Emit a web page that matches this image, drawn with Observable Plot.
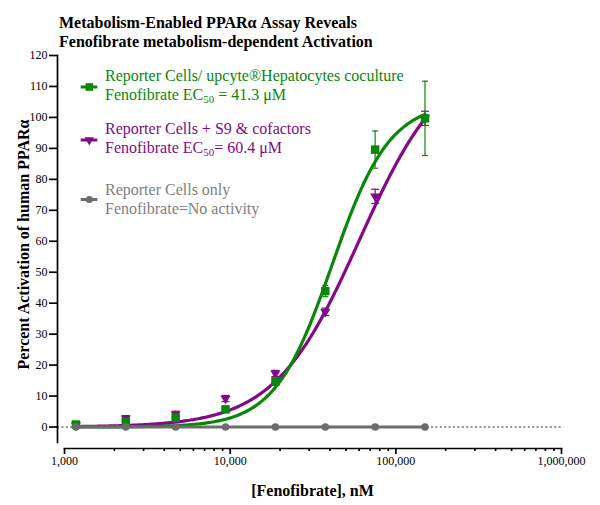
<!DOCTYPE html>
<html>
<head>
<meta charset="utf-8">
<script src="https://cdn.jsdelivr.net/npm/d3@7"></script>
<script src="https://cdn.jsdelivr.net/npm/@observablehq/plot@0.6"></script>
<style>
  html, body { margin: 0; padding: 0; background: #fff; }
  #figure { position: relative; width: 600px; height: 505px; font-family: "Liberation Serif", "Times New Roman", serif; }
  #figure > svg { position: absolute; left: 0; top: 0; }
  #title { position: absolute; left: 59px; top: 13px; font-size: 16px; line-height: 19px; font-weight: bold; color: #000; white-space: nowrap; z-index: 2; }
  .legend-item { position: absolute; left: 78px; font-size: 16px; line-height: 19.3px; white-space: nowrap; z-index: 2; }
  .legend-item svg { position: absolute; left: 0; top: 0; overflow: visible; }
  .legend-item .label { position: absolute; left: 27px; top: 0; }
  .legend-item sub { font-size: 11px; vertical-align: -3px; line-height: 0; }
</style>
</head>
<body>
<div id="figure">
  <div id="title">Metabolism-Enabled PPARα Assay Reveals<br>Fenofibrate metabolism-dependent Activation</div>
</div>
<script>
// Fenofibrate concentrations (nM), two-fold dilution series
const doses = [1171.875, 2343.75, 4687.5, 9375, 18750, 37500, 75000, 150000];

// Percent activation of human PPARα (mean and error)
const coculture    = [0.8, 1.6, 3.0, 5.7, 14.7, 43.9, 89.6, 99.7];
const coculture_err = [0.3, 0.4, 0.5, 0.8, 1.2, 1.8, 6.0, 12.0];
const s9           = [0.6, 2.8, 4.2, 9.2, 17.3, 37.2, 74.5, 99.7];
const s9_err       = [0.3, 0.9, 0.9, 1.0, 1.0, 1.2, 2.3, 2.3];
const reporterOnly = [0, 0, 0, 0, 0, 0, 0, 0];

// Four-parameter logistic fits: EC50 in μM
const ec50   = [41.3, 60.4];
const fitTop = [105, 121];
const fitBottom = [0, 0];
const fitHill = [2.5, 1.69];

const seriesColors = ["#0a870a", "#820a86", "#6c6c6c"];
const legendColors = ["#0a870a", "#820a86", "#808080"];
const legendLines = [
  ["Reporter Cells/ upcyte®Hepatocytes coculture", `Fenofibrate EC<sub>50</sub> = ${ec50[0]} μM`],
  ["Reporter Cells + S9 &amp; cofactors", `Fenofibrate EC<sub>50</sub>= ${ec50[1]} μM`],
  ["Reporter Cells only", "Fenofibrate=No activity"]
];

// Axis ticks
const yTicks = [0, 10, 20, 30, 40, 50, 60, 70, 80, 90, 100, 110, 120];
const xMajorTicks = [1000, 10000, 100000, 1000000];
const xMinorTicks = [1000, 10000, 100000].flatMap(d => [2, 3, 4, 5, 6, 7, 8, 9].map(k => k * d));
const yTitle = "Percent Activation of human PPARα";
const xTitle = "[Fenofibrate], nM";

const serif = "'Liberation Serif', 'Times New Roman', serif";

const rows = (values, errs) => doses.map((dose, i) => ({dose, value: values[i], err: errs[i]}));
const green = rows(coculture, coculture_err);
const purple = rows(s9, s9_err);
const gray = rows(reporterOnly, reporterOnly.map(() => 0));

function logistic(x, k) {
  const c = ec50[k] * 1000; // μM -> nM
  return fitBottom[k] + (fitTop[k] - fitBottom[k]) / (1 + Math.pow(c / x, fitHill[k]));
}
const curveX = d3.range(0, 241).map(i => doses[0] * Math.pow(doses[doses.length - 1] / doses[0], i / 240));
const fitCurve = k => curveX.map(x => ({dose: x, value: logistic(x, k)}));

// horizontal end cap for error bars
const capSymbol = {draw(ctx, size) { const w = Math.sqrt(size); ctx.moveTo(-w / 2, 0); ctx.lineTo(w / 2, 0); }};

const errorMarks = (data, color, capR) => [
  Plot.ruleX(data, {x: "dose", y1: d => d.value - d.err, y2: d => d.value + d.err, stroke: color, strokeWidth: 1.2}),
  Plot.dot(data, {x: "dose", y: d => d.value + d.err, symbol: capSymbol, r: capR, fill: "none", stroke: color, strokeWidth: 1.2}),
  Plot.dot(data, {x: "dose", y: d => d.value - d.err, symbol: capSymbol, r: capR, fill: "none", stroke: color, strokeWidth: 1.2})
];

const chart = Plot.plot({
  width: 600,
  height: 505,
  marginLeft: 57,
  marginRight: 39,
  marginTop: 55,
  marginBottom: 57,
  x: {type: "log", domain: [907, 1e6], range: [57, 561]},
  y: {domain: [-5, 120], range: [442, 55]},
  style: `font-family: ${serif}; font-size: 12px; color: #000; background: transparent; overflow: visible;`,
  marks: [
    Plot.ruleY([0], {stroke: "#707070", strokeWidth: 1.5, strokeDasharray: "2,2.4"}),
    Plot.frame({anchor: "left", insetBottom: 6, strokeWidth: 1.7}),
    Plot.frame({anchor: "bottom", insetLeft: 7, strokeWidth: 1.7}),
    Plot.axisY(yTicks, {tickSize: 8, tickPadding: 2, strokeWidth: 1.7, label: null, fontSize: 12, fontFamily: serif, fontVariant: "normal"}),
    Plot.axisX(xMajorTicks, {tickSize: 6, tickPadding: 2, strokeWidth: 1.7, label: null, fontSize: 12, fontFamily: serif, fontVariant: "normal", tickFormat: d3.format(",")}),
    Plot.axisX(xMinorTicks, {tickSize: 3, strokeWidth: 1.7, label: null, tickFormat: () => ""}),
    Plot.text([yTitle], {text: d => d, frameAnchor: "left", textAnchor: "middle", rotate: -90, dx: -34, dy: -7.5, fontSize: 16, fontFamily: serif, fontWeight: "bold", lineAnchor: "middle"}),
    Plot.text([xTitle], {text: d => d, frameAnchor: "bottom", textAnchor: "middle", dx: 3, dy: 42, fontSize: 16, fontFamily: serif, fontWeight: "bold", lineAnchor: "middle"}),

    // S9 & cofactors
    Plot.line(fitCurve(1), {x: "dose", y: "value", stroke: seriesColors[1], strokeWidth: 3.2}),
    // coculture
    Plot.line(fitCurve(0), {x: "dose", y: "value", stroke: seriesColors[0], strokeWidth: 3.2}),
    ...errorMarks(purple, seriesColors[1], 4.5),
    Plot.dot(purple, {x: "dose", y: "value", symbol: "triangle", rotate: 180, r: 3.7, fill: seriesColors[1], stroke: "none"}),
    ...errorMarks(green, seriesColors[0], 3.4),
    Plot.dot(green, {x: "dose", y: "value", symbol: "square", r: 4.8, fill: seriesColors[0], stroke: "none"}),
    // reporter cells only
    Plot.line(gray, {x: "dose", y: "value", stroke: seriesColors[2], strokeWidth: 3}),
    Plot.dot(gray, {x: "dose", y: "value", symbol: "circle", r: 3.8, fill: seriesColors[2], stroke: "none"})
  ]
});

const figure = document.getElementById("figure");
figure.appendChild(chart);

// legend
const legendTops = [65.6, 118.9, 179.9];
const markerOffsets = [21, 21, 19.5];
const legendSymbols = [
  {type: d3.symbolSquare, size: Math.PI * 4.3 * 4.3, rotate: 0},
  {type: d3.symbolTriangle, size: Math.PI * 3.5 * 3.5, rotate: 180},
  {type: d3.symbolCircle, size: Math.PI * 3.6 * 3.6, rotate: 0}
];
legendLines.forEach((lines, i) => {
  const item = document.createElement("div");
  item.className = "legend-item";
  item.style.top = legendTops[i] + "px";
  item.style.color = legendColors[i];
  const my = markerOffsets[i];
  const s = legendSymbols[i];
  item.innerHTML =
    `<svg width="24" height="40">` +
    `<line x1="2.7" x2="19.3" y1="${my}" y2="${my}" stroke="${seriesColors[i]}" stroke-width="3"/>` +
    `<path d="${d3.symbol(s.type, s.size)()}" transform="translate(11.3,${my}) rotate(${s.rotate})" fill="${seriesColors[i]}"/>` +
    `</svg>` +
    `<div class="label">${lines[0]}<br>${lines[1]}</div>`;
  figure.appendChild(item);
});
</script>
</body>
</html>
